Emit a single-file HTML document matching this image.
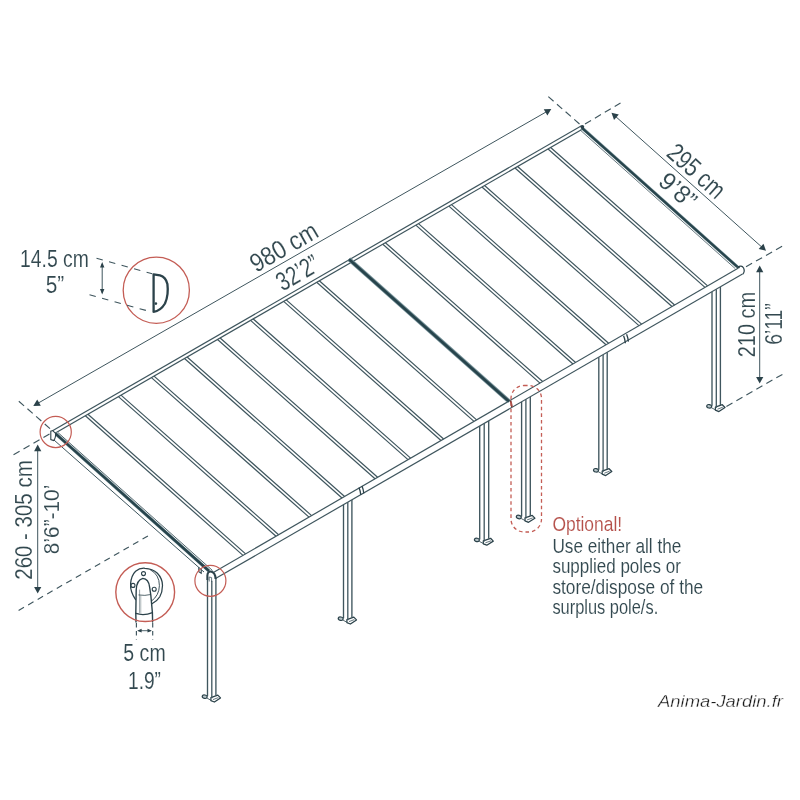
<!DOCTYPE html>
<html lang="en">
<head>
<meta charset="utf-8">
<title>Patio cover dimensions</title>
<style>
html,body{margin:0;padding:0;background:#fff;}
body{width:800px;height:800px;overflow:hidden;}
svg{display:block;font-family:"Liberation Sans","DejaVu Sans",sans-serif;will-change:transform;}
</style>
</head>
<body>
<svg width="800" height="800" viewBox="0 0 800 800">
<rect width="800" height="800" fill="#fff"/>
<text x="20.00" y="267.00" font-size="23" text-anchor="start" fill="#32484f" stroke="#fff" stroke-width="0.12" textLength="68.8" lengthAdjust="spacingAndGlyphs" >14.5 cm</text>
<text x="45.75" y="293.20" font-size="23" text-anchor="start" fill="#32484f" stroke="#fff" stroke-width="0.12" textLength="18.5" lengthAdjust="spacingAndGlyphs" >5”</text>
<text x="123.35" y="661.00" font-size="23" text-anchor="start" fill="#32484f" stroke="#fff" stroke-width="0.12" textLength="42.3" lengthAdjust="spacingAndGlyphs" >5 cm</text>
<text x="128.00" y="688.80" font-size="23" text-anchor="start" fill="#32484f" stroke="#fff" stroke-width="0.12" textLength="33.0" lengthAdjust="spacingAndGlyphs" >1.9”</text>
<text x="251.20" y="254.60" font-size="26" text-anchor="start" fill="#32484f" stroke="#fff" stroke-width="0.12" transform="rotate(-29.97 288.20 254.60)" textLength="74.0" lengthAdjust="spacingAndGlyphs" >980 cm</text>
<text x="279.50" y="280.60" font-size="26.5" text-anchor="start" fill="#32484f" stroke="#fff" stroke-width="0.12" transform="rotate(-29.97 302.00 280.60)" textLength="45.0" lengthAdjust="spacingAndGlyphs" >32’2”</text>
<text x="656.60" y="177.60" font-size="26" text-anchor="start" fill="#32484f" stroke="#fff" stroke-width="0.12" transform="rotate(41.77 690.60 177.60)" textLength="68.0" lengthAdjust="spacingAndGlyphs" >295 cm</text>
<text x="651.90" y="196.90" font-size="25" text-anchor="start" fill="#32484f" stroke="#fff" stroke-width="0.12" transform="rotate(41.77 672.40 196.90)" textLength="41.0" lengthAdjust="spacingAndGlyphs" >9’8”</text>
<text x="722.05" y="324.50" font-size="23.5" text-anchor="start" fill="#32484f" stroke="#fff" stroke-width="0.12" transform="rotate(-90.00 754.80 324.50)" textLength="65.5" lengthAdjust="spacingAndGlyphs" >210 cm</text>
<text x="760.75" y="324.00" font-size="23.5" text-anchor="start" fill="#32484f" stroke="#fff" stroke-width="0.12" transform="rotate(-90.00 781.50 324.00)" textLength="41.5" lengthAdjust="spacingAndGlyphs" >6’11”</text>
<text x="-27.75" y="520.00" font-size="23" text-anchor="start" fill="#32484f" stroke="#fff" stroke-width="0.12" transform="rotate(-90.00 32.00 520.00)" textLength="119.5" lengthAdjust="spacingAndGlyphs" >260 - 305 cm</text>
<text x="23.85" y="519.40" font-size="22.5" text-anchor="start" fill="#32484f" stroke="#fff" stroke-width="0.12" transform="rotate(-90.00 58.60 519.40)" textLength="69.5" lengthAdjust="spacingAndGlyphs" >8’6”-10’</text>
<text x="552.40" y="530.60" font-size="20.5" text-anchor="start" fill="#b5504a" stroke="#fff" stroke-width="0.12" textLength="69.8" lengthAdjust="spacingAndGlyphs" >Optional!</text>
<text x="552.40" y="552.70" font-size="20.5" text-anchor="start" fill="#32484f" stroke="#fff" stroke-width="0.12" textLength="128.9" lengthAdjust="spacingAndGlyphs" >Use either all the</text>
<text x="552.40" y="573.23" font-size="20.5" text-anchor="start" fill="#32484f" stroke="#fff" stroke-width="0.12" textLength="128.5" lengthAdjust="spacingAndGlyphs" >supplied poles or</text>
<text x="552.40" y="593.76" font-size="20.5" text-anchor="start" fill="#32484f" stroke="#fff" stroke-width="0.12" textLength="150.8" lengthAdjust="spacingAndGlyphs" >store/dispose of the</text>
<text x="552.40" y="614.29" font-size="20.5" text-anchor="start" fill="#32484f" stroke="#fff" stroke-width="0.12" textLength="105.8" lengthAdjust="spacingAndGlyphs" >surplus pole/s.</text>
<text x="658.00" y="707.00" font-size="16.5" text-anchor="start" fill="#1a1a1a" stroke="#fff" stroke-width="0.3" textLength="125" lengthAdjust="spacingAndGlyphs" font-style="italic">Anima-Jardin.fr</text>
<rect x="207.50" y="572.37" width="8.4" height="122.63" fill="#fff" stroke="none"/>
<ellipse cx="204.70" cy="696.70" rx="2.5" ry="1.7" fill="#b9c6ca" stroke="#2b424a" stroke-width="1.2" transform="rotate(12 204.70 696.70)"/>
<line x1="207.10" y1="698.20" x2="211.20" y2="700.40" stroke="#3f565e" stroke-width="0.9" />
<polygon points="210.90,697.60 217.80,695.10 220.50,697.90 214.40,702.00 210.90,700.60" fill="#fff" stroke="#2b424a" stroke-width="1.25" stroke-linejoin="round" />
<line x1="213.00" y1="699.60" x2="218.30" y2="697.60" stroke="#3f565e" stroke-width="0.8" />
<line x1="207.50" y1="579.50" x2="207.50" y2="696.20" stroke="#3f565e" stroke-width="1.3499999999999999" />
<line x1="211.80" y1="580.74" x2="211.80" y2="698.20" stroke="#3f565e" stroke-width="1.3" />
<line x1="215.90" y1="578.37" x2="215.90" y2="695.60" stroke="#3f565e" stroke-width="1.3499999999999999" />
<rect x="343.50" y="493.79" width="8.4" height="123.21" fill="#fff" stroke="none"/>
<ellipse cx="340.70" cy="618.70" rx="2.5" ry="1.7" fill="#b9c6ca" stroke="#2b424a" stroke-width="1.2" transform="rotate(12 340.70 618.70)"/>
<line x1="343.10" y1="620.20" x2="347.20" y2="622.40" stroke="#3f565e" stroke-width="0.9" />
<polygon points="346.90,619.60 353.80,617.10 356.50,619.90 350.40,624.00 346.90,622.60" fill="#fff" stroke="#2b424a" stroke-width="1.25" stroke-linejoin="round" />
<line x1="349.00" y1="621.60" x2="354.30" y2="619.60" stroke="#3f565e" stroke-width="0.8" />
<line x1="343.50" y1="504.64" x2="343.50" y2="618.20" stroke="#3f565e" stroke-width="1.3499999999999999" />
<line x1="347.80" y1="502.16" x2="347.80" y2="620.20" stroke="#3f565e" stroke-width="1.3" />
<line x1="351.90" y1="499.79" x2="351.90" y2="617.60" stroke="#3f565e" stroke-width="1.3499999999999999" />
<rect x="479.70" y="414.75" width="9.0" height="123.45" fill="#fff" stroke="none"/>
<ellipse cx="476.90" cy="539.90" rx="2.5" ry="1.7" fill="#b9c6ca" stroke="#2b424a" stroke-width="1.2" transform="rotate(12 476.90 539.90)"/>
<line x1="479.30" y1="541.40" x2="483.60" y2="543.60" stroke="#3f565e" stroke-width="0.9" />
<polygon points="483.30,540.80 490.60,538.30 493.30,541.10 486.80,545.20 483.30,543.80" fill="#fff" stroke="#2b424a" stroke-width="1.25" stroke-linejoin="round" />
<line x1="485.40" y1="542.80" x2="491.10" y2="540.80" stroke="#3f565e" stroke-width="0.8" />
<line x1="479.70" y1="425.95" x2="479.70" y2="539.40" stroke="#3f565e" stroke-width="1.3499999999999999" />
<line x1="484.20" y1="423.35" x2="484.20" y2="541.40" stroke="#3f565e" stroke-width="1.3" />
<line x1="488.70" y1="420.75" x2="488.70" y2="538.80" stroke="#3f565e" stroke-width="1.3499999999999999" />
<rect x="521.60" y="390.71" width="8.7" height="124.59" fill="#fff" stroke="none"/>
<ellipse cx="518.80" cy="517.00" rx="2.5" ry="1.7" fill="#b9c6ca" stroke="#2b424a" stroke-width="1.2" transform="rotate(12 518.80 517.00)"/>
<line x1="521.20" y1="518.50" x2="525.30" y2="520.70" stroke="#3f565e" stroke-width="0.9" />
<polygon points="525.00,517.90 532.20,515.40 534.90,518.20 528.50,522.30 525.00,520.90" fill="#fff" stroke="#2b424a" stroke-width="1.25" stroke-linejoin="round" />
<line x1="527.10" y1="519.90" x2="532.70" y2="517.90" stroke="#3f565e" stroke-width="0.8" />
<line x1="521.60" y1="401.74" x2="521.60" y2="516.50" stroke="#3f565e" stroke-width="1.3499999999999999" />
<line x1="525.90" y1="399.25" x2="525.90" y2="518.50" stroke="#3f565e" stroke-width="1.3" />
<line x1="530.30" y1="396.71" x2="530.30" y2="515.90" stroke="#3f565e" stroke-width="1.3499999999999999" />
<rect x="598.80" y="346.28" width="8.4" height="122.32" fill="#fff" stroke="none"/>
<ellipse cx="596.00" cy="470.30" rx="2.5" ry="1.7" fill="#b9c6ca" stroke="#2b424a" stroke-width="1.2" transform="rotate(12 596.00 470.30)"/>
<line x1="598.40" y1="471.80" x2="602.50" y2="474.00" stroke="#3f565e" stroke-width="0.9" />
<polygon points="602.20,471.20 609.10,468.70 611.80,471.50 605.70,475.60 602.20,474.20" fill="#fff" stroke="#2b424a" stroke-width="1.25" stroke-linejoin="round" />
<line x1="604.30" y1="473.20" x2="609.60" y2="471.20" stroke="#3f565e" stroke-width="0.8" />
<line x1="598.80" y1="357.13" x2="598.80" y2="469.80" stroke="#3f565e" stroke-width="1.3499999999999999" />
<line x1="603.10" y1="354.65" x2="603.10" y2="471.80" stroke="#3f565e" stroke-width="1.3" />
<line x1="607.20" y1="352.28" x2="607.20" y2="469.20" stroke="#3f565e" stroke-width="1.3499999999999999" />
<rect x="712.00" y="280.87" width="8.4" height="123.73" fill="#fff" stroke="none"/>
<ellipse cx="709.20" cy="406.30" rx="2.5" ry="1.7" fill="#b9c6ca" stroke="#2b424a" stroke-width="1.2" transform="rotate(12 709.20 406.30)"/>
<line x1="711.60" y1="407.80" x2="715.70" y2="410.00" stroke="#3f565e" stroke-width="0.9" />
<polygon points="715.40,407.20 722.30,404.70 725.00,407.50 718.90,411.60 715.40,410.20" fill="#fff" stroke="#2b424a" stroke-width="1.25" stroke-linejoin="round" />
<line x1="717.50" y1="409.20" x2="722.80" y2="407.20" stroke="#3f565e" stroke-width="0.8" />
<line x1="712.00" y1="291.72" x2="712.00" y2="405.80" stroke="#3f565e" stroke-width="1.3499999999999999" />
<line x1="716.30" y1="289.24" x2="716.30" y2="407.80" stroke="#3f565e" stroke-width="1.3" />
<line x1="720.40" y1="286.87" x2="720.40" y2="405.20" stroke="#3f565e" stroke-width="1.3499999999999999" />
<polygon points="52.50,430.80 581.50,125.80 738.00,268.20 742.50,274.10 215.50,578.60 212.50,573.10" fill="#fff" stroke="none" stroke-width="0" stroke-linejoin="round" />
<line x1="85.35" y1="415.70" x2="243.00" y2="555.40" stroke="#3f565e" stroke-width="1.2" />
<line x1="87.95" y1="414.20" x2="245.60" y2="553.90" stroke="#3f565e" stroke-width="1.2" />
<line x1="118.40" y1="396.65" x2="276.00" y2="536.26" stroke="#3f565e" stroke-width="1.2" />
<line x1="121.00" y1="395.15" x2="278.60" y2="534.75" stroke="#3f565e" stroke-width="1.2" />
<line x1="151.45" y1="377.59" x2="309.00" y2="517.11" stroke="#3f565e" stroke-width="1.2" />
<line x1="154.05" y1="376.09" x2="311.60" y2="515.60" stroke="#3f565e" stroke-width="1.2" />
<line x1="184.50" y1="358.54" x2="342.00" y2="497.96" stroke="#3f565e" stroke-width="1.2" />
<line x1="187.10" y1="357.04" x2="344.60" y2="496.45" stroke="#3f565e" stroke-width="1.2" />
<line x1="217.55" y1="339.48" x2="375.00" y2="478.82" stroke="#3f565e" stroke-width="1.2" />
<line x1="220.15" y1="337.98" x2="377.60" y2="477.31" stroke="#3f565e" stroke-width="1.2" />
<line x1="250.60" y1="320.42" x2="408.00" y2="459.67" stroke="#3f565e" stroke-width="1.2" />
<line x1="253.20" y1="318.93" x2="410.60" y2="458.16" stroke="#3f565e" stroke-width="1.2" />
<line x1="283.65" y1="301.37" x2="441.00" y2="440.52" stroke="#3f565e" stroke-width="1.2" />
<line x1="286.25" y1="299.87" x2="443.60" y2="439.01" stroke="#3f565e" stroke-width="1.2" />
<line x1="316.70" y1="282.31" x2="474.00" y2="421.38" stroke="#3f565e" stroke-width="1.2" />
<line x1="319.30" y1="280.82" x2="476.60" y2="419.87" stroke="#3f565e" stroke-width="1.2" />
<line x1="382.80" y1="244.20" x2="540.00" y2="383.08" stroke="#3f565e" stroke-width="1.2" />
<line x1="385.40" y1="242.70" x2="542.60" y2="381.57" stroke="#3f565e" stroke-width="1.2" />
<line x1="415.85" y1="225.15" x2="573.00" y2="363.93" stroke="#3f565e" stroke-width="1.2" />
<line x1="418.45" y1="223.65" x2="575.60" y2="362.43" stroke="#3f565e" stroke-width="1.2" />
<line x1="448.90" y1="206.09" x2="606.00" y2="344.79" stroke="#3f565e" stroke-width="1.2" />
<line x1="451.50" y1="204.59" x2="608.60" y2="343.28" stroke="#3f565e" stroke-width="1.2" />
<line x1="481.95" y1="187.04" x2="639.00" y2="325.64" stroke="#3f565e" stroke-width="1.2" />
<line x1="484.55" y1="185.54" x2="641.60" y2="324.13" stroke="#3f565e" stroke-width="1.2" />
<line x1="515.00" y1="167.98" x2="672.00" y2="306.49" stroke="#3f565e" stroke-width="1.2" />
<line x1="517.60" y1="166.48" x2="674.60" y2="304.99" stroke="#3f565e" stroke-width="1.2" />
<line x1="548.05" y1="148.93" x2="705.00" y2="287.35" stroke="#3f565e" stroke-width="1.2" />
<line x1="550.65" y1="147.43" x2="707.60" y2="285.84" stroke="#3f565e" stroke-width="1.2" />
<line x1="52.50" y1="430.80" x2="581.50" y2="125.80" stroke="#3f565e" stroke-width="1.2" />
<line x1="55.00" y1="433.20" x2="584.00" y2="128.20" stroke="#3f565e" stroke-width="1.2" />
<line x1="212.50" y1="573.10" x2="738.00" y2="268.20" stroke="#3f565e" stroke-width="1.2" />
<line x1="215.50" y1="578.60" x2="742.50" y2="274.10" stroke="#3f565e" stroke-width="1.2" />
<line x1="55.50" y1="433.60" x2="209.00" y2="571.00" stroke="#8ba2a8" stroke-width="3.4" />
<line x1="55.50" y1="433.60" x2="209.00" y2="571.00" stroke="#27444c" stroke-width="2.5" />
<line x1="53.50" y1="439.60" x2="204.00" y2="572.00" stroke="#3f565e" stroke-width="1.0" />
<line x1="58.00" y1="432.60" x2="212.50" y2="570.50" stroke="#3f565e" stroke-width="0.9" />
<line x1="581.90" y1="127.80" x2="737.40" y2="266.90" stroke="#8ba2a8" stroke-width="3.2" />
<line x1="581.90" y1="127.80" x2="737.40" y2="266.90" stroke="#27444c" stroke-width="2.3" />
<line x1="580.20" y1="130.00" x2="735.20" y2="268.60" stroke="#3f565e" stroke-width="0.8" />
<line x1="348.95" y1="259.21" x2="509.10" y2="401.47" stroke="#7a959c" stroke-width="4.4" />
<line x1="348.95" y1="259.21" x2="509.10" y2="401.47" stroke="#27444c" stroke-width="2.8" />
<path d="M50.8 431.2 L50.8 439.6 L53.6 440.6 Q56.2 437.5 55.4 433.2 L52.6 430.6 Z" fill="#fff" stroke="#2b424a" stroke-width="1.1" />
<circle cx="582.3" cy="126.8" r="1.9" fill="#2b424a" stroke="none" stroke-width="0"/>
<path d="M737.5 267.4 Q741.5 264.6 743.6 268.0 Q745.2 271.8 742.6 274.4" fill="#fff" stroke="#2b424a" stroke-width="1.2" />
<circle cx="738.4" cy="267.2" r="1.3" fill="#2b424a" stroke="none" stroke-width="0"/>
<path d="M207.4 580 L207.4 575.5 Q207.6 571.2 211.0 571.6 Q215.4 572.6 215.6 579" fill="#fff" stroke="#2b424a" stroke-width="2.1" />
<path d="M209.2 581.5 L209.2 577.0 L211.6 577.6 L211.6 582.0" fill="none" stroke="#3f565e" stroke-width="0.8" />
<path d="M198.8 567.2 L198.8 571.8 L201.2 573.2 L201.2 569.4" fill="none" stroke="#2b424a" stroke-width="1.1" />
<path d="M359.00 487.60 Q360.40 491.00 360.80 495.00" fill="none" stroke="#2b424a" stroke-width="1.3" />
<path d="M362.00 486.00 Q363.40 489.40 363.80 493.40" fill="none" stroke="#2b424a" stroke-width="1.3" />
<path d="M623.60 335.80 Q625.00 339.20 625.40 343.20" fill="none" stroke="#2b424a" stroke-width="1.3" />
<path d="M626.60 334.20 Q628.00 337.60 628.40 341.60" fill="none" stroke="#2b424a" stroke-width="1.3" />
<line x1="510.60" y1="400.60" x2="512.00" y2="407.00" stroke="#8a3a35" stroke-width="1.8" />
<circle cx="55.7" cy="432.0" r="15.6" fill="none" stroke="#c45d55" stroke-width="1.2"/>
<circle cx="210.4" cy="580.8" r="15.5" fill="none" stroke="#c45d55" stroke-width="1.2"/>
<circle cx="156.3" cy="290.2" r="33.1" fill="#fff" stroke="#c45d55" stroke-width="1.3"/>
<path d="M153.6 274.4 L153.6 311.8 Q160.5 311.0 165.0 303.5 Q168.8 295.0 167.4 284.0 Q165.8 277.0 160.0 275.4 Z" fill="#fff" stroke="#2b424a" stroke-width="2.3" stroke-linejoin="round"/>
<circle cx="155.9" cy="303.6" r="1.3" fill="#2b424a" stroke="none" stroke-width="0"/>
<line x1="96.50" y1="258.20" x2="152.30" y2="273.80" stroke="#3f565e" stroke-width="1.15" stroke-dasharray="6.5 6.5"/>
<line x1="89.50" y1="294.80" x2="152.30" y2="312.20" stroke="#3f565e" stroke-width="1.15" stroke-dasharray="6.5 6.5"/>
<line x1="102.20" y1="264.00" x2="102.20" y2="292.60" stroke="#3f565e" stroke-width="1.0" />
<polygon points="102.20,262.00 104.40,267.60 100.00,267.60" fill="#2b424a" stroke="none" stroke-width="0" stroke-linejoin="round" />
<polygon points="102.20,294.60 100.00,289.00 104.40,289.00" fill="#2b424a" stroke="none" stroke-width="0" stroke-linejoin="round" />
<circle cx="145.2" cy="592.1" r="29.4" fill="#fff" stroke="none" stroke-width="0"/>
<g fill="none" stroke="#2b424a" stroke-width="1.25" stroke-linecap="round" stroke-linejoin="round">
<path d="M135.6 599.6 Q130.0 591.5 130.6 583.6 Q131.2 575.5 135.6 571.2 Q139.8 567.8 145.0 568.3 Q152.5 568.6 157.4 573.3 Q162.4 578.5 162.5 585.4 Q162.4 592.0 159.8 596.8 Q157.0 601.4 152.0 603.8" fill="#fff"/>
<path d="M150.4 569.8 Q159.4 574.5 159.4 585.6 Q159.2 595.5 151.4 601.2" stroke-width="0.9"/>
<circle cx="143.5" cy="573.6" r="2.0" stroke-width="1.1"/>
<circle cx="133.0" cy="585.4" r="2.0" stroke-width="1.1"/>
<circle cx="154.2" cy="589.3" r="2.0" stroke-width="1.1"/>
<path d="M136.0 622.0 L135.8 613.4 L136.2 590.0 Q136.6 580.0 142.8 578.4 Q148.6 578.8 149.6 587.0 L150.8 595.0 L152.4 612.6 L152.6 622.0" fill="#fff" stroke-width="1.4"/>
<path d="M135.8 613.4 Q144.0 616.0 152.4 612.6" stroke-width="1.2"/>
<path d="M138.9 595.0 Q145.0 596.0 150.4 594.6" stroke-width="0.8"/>
<line x1="139.6" y1="590" x2="139.6" y2="612.5" stroke-width="0.7" opacity="0.7"/>
<line x1="140.8" y1="596" x2="140.8" y2="612.5" stroke-width="0.6" opacity="0.6"/>
</g>
<circle cx="145.2" cy="592.1" r="29.4" fill="none" stroke="#c45d55" stroke-width="1.4"/>
<line x1="136.40" y1="623.00" x2="136.40" y2="639.50" stroke="#3f565e" stroke-width="1.15" stroke-dasharray="4.5 3.5"/>
<line x1="152.70" y1="623.00" x2="152.70" y2="639.50" stroke="#3f565e" stroke-width="1.15" stroke-dasharray="4.5 3.5"/>
<line x1="138.50" y1="630.70" x2="150.60" y2="630.70" stroke="#3f565e" stroke-width="0.9" />
<polygon points="137.20,630.70 141.60,628.80 141.60,632.60" fill="#2b424a" stroke="none" stroke-width="0" stroke-linejoin="round" />
<polygon points="151.90,630.70 147.50,632.60 147.50,628.80" fill="#2b424a" stroke="none" stroke-width="0" stroke-linejoin="round" />
<line x1="35.04" y1="404.91" x2="549.56" y2="109.99" stroke="#3f565e" stroke-width="1.0" />
<polygon points="33.30,405.90 37.24,399.49 40.82,405.74" fill="#2b424a" stroke="none" stroke-width="0" stroke-linejoin="round" />
<polygon points="551.30,109.00 547.36,115.41 543.78,109.16" fill="#2b424a" stroke="none" stroke-width="0" stroke-linejoin="round" />
<line x1="50.00" y1="428.60" x2="18.00" y2="400.50" stroke="#3f565e" stroke-width="1.15" stroke-dasharray="7 4.5"/>
<line x1="49.50" y1="434.00" x2="13.00" y2="455.00" stroke="#3f565e" stroke-width="1.15" stroke-dasharray="7 4.5"/>
<line x1="579.50" y1="124.00" x2="546.50" y2="95.00" stroke="#3f565e" stroke-width="1.15" stroke-dasharray="7 4.5"/>
<line x1="585.00" y1="124.00" x2="620.50" y2="103.00" stroke="#3f565e" stroke-width="1.15" stroke-dasharray="7 4.5"/>
<line x1="612.99" y1="114.13" x2="764.51" y2="249.47" stroke="#3f565e" stroke-width="1.0" />
<polygon points="611.50,112.80 618.82,114.51 614.02,119.88" fill="#2b424a" stroke="none" stroke-width="0" stroke-linejoin="round" />
<polygon points="766.00,250.80 758.68,249.09 763.48,243.72" fill="#2b424a" stroke="none" stroke-width="0" stroke-linejoin="round" />
<line x1="746.00" y1="266.80" x2="783.00" y2="245.80" stroke="#3f565e" stroke-width="1.15" stroke-dasharray="7 4.5"/>
<line x1="759.70" y1="267.60" x2="759.70" y2="381.60" stroke="#3f565e" stroke-width="1.0" />
<polygon points="759.70,265.60 763.30,272.20 756.10,272.20" fill="#2b424a" stroke="none" stroke-width="0" stroke-linejoin="round" />
<polygon points="759.70,383.60 756.10,377.00 763.30,377.00" fill="#2b424a" stroke="none" stroke-width="0" stroke-linejoin="round" />
<line x1="726.40" y1="406.40" x2="782.40" y2="374.40" stroke="#3f565e" stroke-width="1.15" stroke-dasharray="7 4.5"/>
<line x1="37.70" y1="446.60" x2="37.70" y2="591.60" stroke="#3f565e" stroke-width="1.0" />
<polygon points="37.70,444.60 41.30,451.20 34.10,451.20" fill="#2b424a" stroke="none" stroke-width="0" stroke-linejoin="round" />
<polygon points="37.70,593.60 34.10,587.00 41.30,587.00" fill="#2b424a" stroke="none" stroke-width="0" stroke-linejoin="round" />
<line x1="18.60" y1="610.40" x2="150.00" y2="534.80" stroke="#3f565e" stroke-width="1.15" stroke-dasharray="6.2 4.8"/>
<rect x="511.0" y="385.5" width="30.5" height="146.5" rx="13" ry="13" fill="none" stroke="#c45d55" stroke-width="1.3" stroke-dasharray="3.6 3"/>
</svg>
</body>
</html>
